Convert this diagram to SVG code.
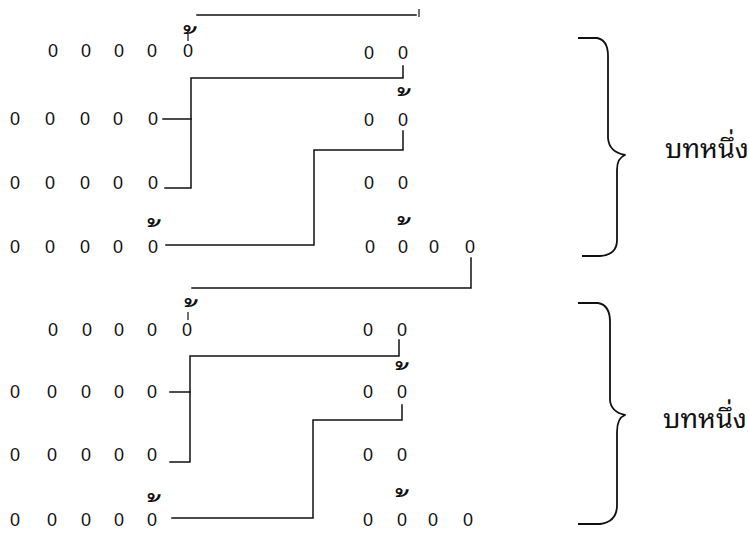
<svg xmlns="http://www.w3.org/2000/svg" width="749" height="538" viewBox="0 0 749 538">
<style>
.o{font-family:"Liberation Sans",Arial,sans-serif;font-size:18px;text-anchor:middle;fill:#111}
.c{fill:none;stroke:#111;stroke-width:1.5;stroke-linecap:square}
.t{fill:none;stroke:#111;stroke-width:1.2}
.br{fill:none;stroke:#111;stroke-width:1.8;stroke-linejoin:round}
.mk{font-family:"Noto Sans Thai Looped","Noto Serif Thai","Garuda","Loma","Norasi","Kinnari",sans-serif;font-size:36px;fill:#111}
.lbl{font-family:"Noto Sans Thai Looped","Noto Serif Thai","Garuda","Loma","Norasi","Kinnari",sans-serif;font-size:27px;fill:#111}
</style>
<rect width="749" height="538" fill="#fff"/>
<g id="stanza1">
<g id="s1-line1"><text class="o" x="53" y="57">0</text><text class="o" x="86" y="57">0</text><text class="o" x="119" y="57">0</text><text class="o" x="152" y="57">0</text><text class="o" x="188" y="57">0</text><text class="o" x="369" y="59">0</text><text class="o" x="403" y="59">0</text></g>
<g id="s1-line2"><text class="o" x="15" y="125">0</text><text class="o" x="50" y="125">0</text><text class="o" x="85" y="125">0</text><text class="o" x="118" y="125">0</text><text class="o" x="153" y="125">0</text><text class="o" x="369" y="126">0</text><text class="o" x="403" y="126">0</text></g>
<g id="s1-line3"><text class="o" x="15" y="189">0</text><text class="o" x="50" y="189">0</text><text class="o" x="85" y="189">0</text><text class="o" x="118" y="189">0</text><text class="o" x="153" y="189">0</text><text class="o" x="369" y="189">0</text><text class="o" x="403" y="189">0</text></g>
<g id="s1-line4"><text class="o" x="15" y="253">0</text><text class="o" x="50" y="253">0</text><text class="o" x="85" y="253">0</text><text class="o" x="118" y="253">0</text><text class="o" x="153" y="253">0</text><text class="o" x="370" y="253">0</text><text class="o" x="403" y="253">0</text><text class="o" x="434" y="253">0</text><text class="o" x="470" y="253">0</text></g>
<g id="s1-marks"><text class="mk" x="198" y="58"> ้</text><text class="mk" x="412" y="120"> ้</text><text class="mk" x="162" y="251"> ้</text><text class="mk" x="412" y="249"> ้</text></g>
<g id="s1-brace"><path class="br" d="M578,38 H597 Q608,40 608,56 V138 Q609,152 625,155 Q617,158 617,170 V240 Q617,255 600,256 H582"/><text class="lbl" x="665" y="158">บทหนึ่ง</text></g>
</g>
<g id="stanza2">
<g id="s2-line1"><text class="o" x="53" y="336">0</text><text class="o" x="87" y="336">0</text><text class="o" x="119" y="336">0</text><text class="o" x="152" y="336">0</text><text class="o" x="187" y="336">0</text><text class="o" x="368" y="336">0</text><text class="o" x="402" y="336">0</text></g>
<g id="s2-line2"><text class="o" x="15" y="398">0</text><text class="o" x="52" y="398">0</text><text class="o" x="86" y="398">0</text><text class="o" x="119" y="398">0</text><text class="o" x="152" y="398">0</text><text class="o" x="368" y="398">0</text><text class="o" x="402" y="398">0</text></g>
<g id="s2-line3"><text class="o" x="15" y="461">0</text><text class="o" x="52" y="461">0</text><text class="o" x="86" y="461">0</text><text class="o" x="119" y="461">0</text><text class="o" x="152" y="461">0</text><text class="o" x="368" y="461">0</text><text class="o" x="402" y="461">0</text></g>
<g id="s2-line4"><text class="o" x="15" y="526">0</text><text class="o" x="52" y="526">0</text><text class="o" x="86" y="526">0</text><text class="o" x="119" y="526">0</text><text class="o" x="152" y="526">0</text><text class="o" x="368" y="526">0</text><text class="o" x="402" y="526">0</text><text class="o" x="433" y="526">0</text><text class="o" x="468" y="526">0</text></g>
<g id="s2-marks"><text class="mk" x="199" y="331"> ้</text><text class="mk" x="410" y="394"> ้</text><text class="mk" x="162" y="526"> ้</text><text class="mk" x="410" y="521"> ้</text></g>
<g id="s2-brace"><path class="br" d="M578,303 H598 Q610,305 610,322 V400 Q611,412 625,415 Q617,418 617,432 V505 Q617,522 600,524 H578"/><text class="lbl" x="663" y="428">บทหนึ่ง</text></g>
</g>
<g id="connectors">
<path class="c" d="M197,15 H416"/><path class="t" d="M419,9 V17"/><path class="t" d="M188,34 V41"/>
<path class="c" d="M403,66 V78 H191 V188 H165"/><path class="c" d="M163,119 H191"/>
<path class="c" d="M403,131 V150 H314 V245 H166"/>
<path class="c" d="M471,258 V288 H192"/>
<path class="t" d="M188,312 V320"/>
<path class="c" d="M399,340 V356 H190 V462 H170"/><path class="c" d="M170,392 H190"/>
<path class="c" d="M402,405 V420 H313 V518 H172"/>
</g>
</svg>
